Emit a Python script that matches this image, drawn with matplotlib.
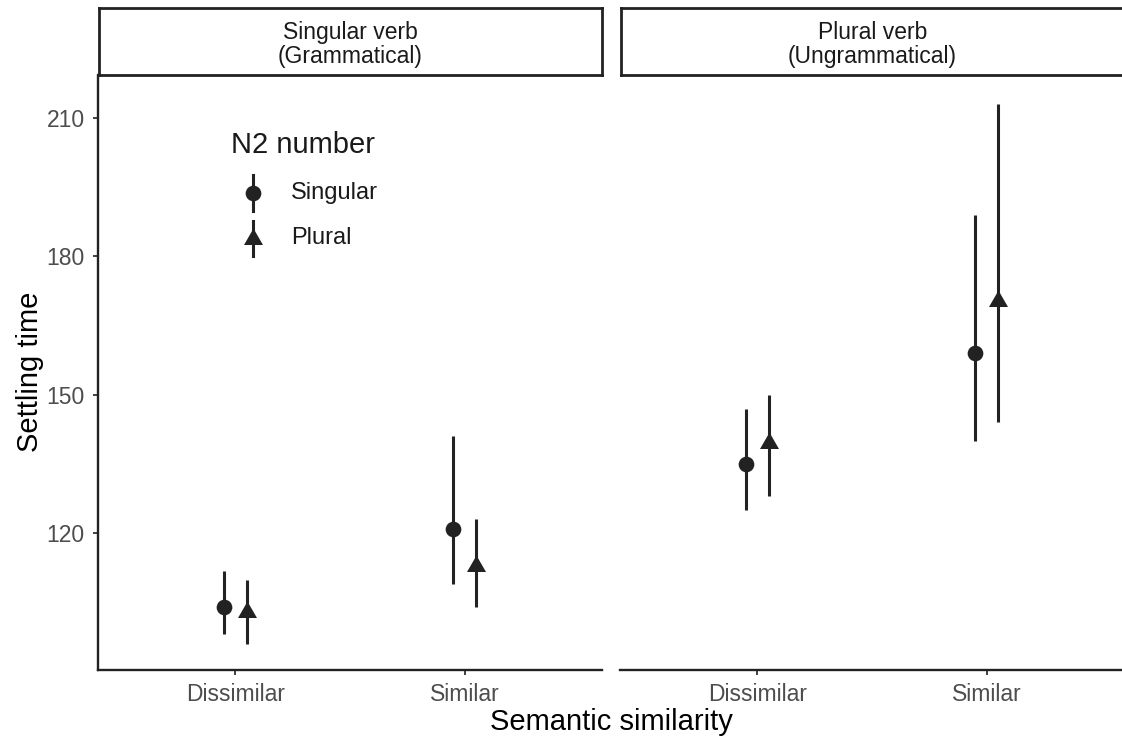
import matplotlib
matplotlib.use("Agg")
import matplotlib.pyplot as plt
from matplotlib.lines import Line2D
import numpy as np

plt.rcParams['font.family'] = ['Liberation Sans', 'DejaVu Sans']

# ---- data ----
panels = ["Singular verb\n(Grammatical)", "Plural verb\n(Ungrammatical)"]
similarity = ["Dissimilar", "Similar"]
n2_levels = ["Singular", "Plural"]

# mean settling time per similarity level (Dissimilar, Similar)
mean_sgverb_sgn2 = [103.9, 120.9]
mean_sgverb_pln2 = [102.9, 112.9]
mean_plverb_sgn2 = [134.9, 159.0]
mean_plverb_pln2 = [139.5, 170.4]

low_sgverb_sgn2 = [98.0, 109.0]
low_sgverb_pln2 = [95.9, 104.0]
low_plverb_sgn2 = [125.0, 140.0]
low_plverb_pln2 = [128.0, 144.1]

high_sgverb_sgn2 = [111.8, 141.0]
high_sgverb_pln2 = [109.8, 123.0]
high_plverb_sgn2 = [146.9, 189.0]
high_plverb_pln2 = [149.9, 213.0]

y_ticks = [120, 150, 180, 210]

panel_data = [
    [(mean_sgverb_sgn2, low_sgverb_sgn2, high_sgverb_sgn2),
     (mean_sgverb_pln2, low_sgverb_pln2, high_sgverb_pln2)],
    [(mean_plverb_sgn2, low_plverb_sgn2, high_plverb_sgn2),
     (mean_plverb_pln2, low_plverb_pln2, high_plverb_pln2)],
]

# ---- styling ----
W, H = 1122, 740
fig = plt.figure(figsize=(W / 100, H / 100), dpi=100)
dark = '#222222'
tri = [(0, 0.577), (-0.5, -0.289), (0.5, -0.289)]
markers = ['o', tri]
msizes = [11.3, 15.8]
dodge = [-0.05, 0.05]

def fx(px):
    return px / W

def fy(py):
    return 1 - py / H

panel_left = [98, 620]
panel_w = 504
top_px, bot_px = 75, 670
ylim = (90.3, 219.3)

axes = []
for p in range(2):
    ax = fig.add_axes([fx(panel_left[p]), fy(bot_px), panel_w / W, (bot_px - top_px) / H])
    axes.append(ax)
    x = np.arange(len(similarity))
    for k in range(2):
        m, lo, hi = panel_data[p][k]
        m = np.array(m); lo = np.array(lo); hi = np.array(hi)
        ax.errorbar(x + dodge[k], m, yerr=[m - lo, hi - m], fmt='none',
                    ecolor=dark, elinewidth=2.2, capsize=0, zorder=2)
        ax.plot(x + dodge[k], m, linestyle='none', marker=markers[k],
                markersize=msizes[k], color=dark, markeredgewidth=0, zorder=3)
    ax.set_xlim(-0.6, 1.6)
    ax.set_ylim(*ylim)
    ax.set_xticks(x)
    ax.set_xticklabels(similarity)
    ax.set_yticks(y_ticks)
    for s in ['top', 'right']:
        ax.spines[s].set_visible(False)
    for s in ['bottom', 'left']:
        ax.spines[s].set_linewidth(1.7)
        ax.spines[s].set_color(dark)
    ax.tick_params(axis='both', direction='out', length=3.6, width=1.3,
                   color='#333333', labelcolor='#4D4D4D', labelsize=16.5)
    ax.tick_params(axis='y', pad=6)
    ax.tick_params(axis='x', pad=5.5)
    if p == 1:
        ax.spines['left'].set_visible(False)
        ax.tick_params(axis='y', left=False, labelleft=False)
    # strip
    sax = fig.add_axes([fx(panel_left[p] + 1), fy(top_px), (panel_w - 1) / W, (top_px - 8) / H])
    sax.set_xticks([]); sax.set_yticks([])
    for s in sax.spines.values():
        s.set_linewidth(2.0)
        s.set_color(dark)
    sax.text(0.5, 0.455, panels[p], ha='center', va='center', fontsize=16.5,
             color='#1A1A1A', linespacing=1.1, transform=sax.transAxes)

fig.text(fx(30), fy(372), "Settling time", rotation=90, ha='center', va='center',
         fontsize=21, color='black')
fig.text(fx(611), fy(722), "Semantic similarity", ha='center', va='center',
         fontsize=21, color='black')

# legend (drawn manually inside the left panel, positions in figure pixels)
fig.text(fx(231), fy(145), "N2 number", ha='left', va='center', fontsize=21,
         color='#1A1A1A')
key_x = 253.5
key_y = [193, 238.5]
for k in range(2):
    fig.add_artist(Line2D([fx(key_x), fx(key_x)], [fy(key_y[k] - 18), fy(key_y[k] + 18)],
                          color=dark, linewidth=2.2, transform=fig.transFigure))
    fig.add_artist(Line2D([fx(key_x)], [fy(key_y[k])], linestyle='none', marker=markers[k],
                          markersize=msizes[k], color=dark, markeredgewidth=0,
                          transform=fig.transFigure))
    fig.text(fx(291), fy(key_y[k]), n2_levels[k], ha='left', va='center', fontsize=17,
             color='#1A1A1A')

fig.savefig("out.png", dpi=100)
